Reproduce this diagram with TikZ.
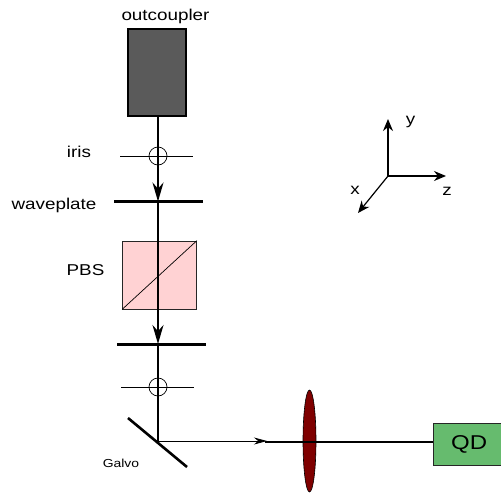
\documentclass[tikz,border=0pt]{standalone}
\usepackage{fontspec}
\setmainfont[FakeStretch=1.2]{Liberation Sans}
\usepackage{xcolor}
\usetikzlibrary{positioning,arrows.meta,shapes.geometric}
\definecolor{coupler}{HTML}{5A5A5A}
\definecolor{softpink}{HTML}{FFD2D3}
\definecolor{lensred}{HTML}{7F0000}
\definecolor{qdgreen}{HTML}{66BB6E}
\tikzset{
  lbl/.style={font=\fontsize{15.7}{18}\selectfont,inner sep=0pt},
  small/.style={font=\fontsize{11.6}{13}\selectfont,inner sep=0pt},
  coupler/.style={rectangle,draw=black,fill=coupler,line width=2.8pt,minimum width=58pt,minimum height=87pt,inner sep=0pt},
  plate/.style={rectangle,fill=black,minimum width=89pt,minimum height=3pt,inner sep=0pt},
  iris/.style={circle,draw=black,line width=0.7pt,minimum size=18pt,inner sep=0pt},
  cube/.style={rectangle,draw=black!85,fill=softpink,line width=0.7pt,minimum width=74pt,minimum height=68pt,inner sep=0pt},
  lens/.style={ellipse,draw=black,fill=lensred,line width=0.6pt,minimum width=13pt,minimum height=102pt,inner sep=0pt},
  qd/.style={rectangle,draw=black!85,fill=qdgreen,line width=1pt,minimum width=68pt,minimum height=42pt,inner sep=0pt,font=\fontsize{20}{22}\selectfont},
  beam/.style={line width=1.8pt,draw=black},
  flow/.style={line width=1.8pt,draw=black,-{Stealth[length=19pt,width=11pt]}},
  thin beam/.style={line width=0.8pt,draw=black,-{Stealth[length=13pt,width=7pt]}},
  axis/.style={line width=1.2pt,draw=black,-{Stealth[length=12pt,width=10pt]}},
}
\begin{document}
\begin{tikzpicture}[x=1pt,y=-1pt]
  \useasboundingbox (0,0) rectangle (501,493);
  \node[coupler] (oc) at (157,72.5) {};
  \node[lbl] (oclbl) at (165.5,16) {outcoupler};
  \node[iris] (ir1) at (158,156) {};
  \node[plate] (wp1) at (158.5,201.5) {};
  \node[cube] (pbs) at (159.5,275) {};
  \node[plate] (wp2) at (161,344) {};
  \node[iris] (ir2) at (158,387) {};
  \node[lens] (ln) at (309.5,441) {};
  \node[qd] (dot) at (467.5,444) {\,QD};
  \coordinate (turn) at (158,441);
  \coordinate (arr) at (267,441);
  \coordinate (arrb) at (265,442);
  % labels
  \node[lbl] (irlbl) at (79,152) {iris};
  \node[lbl] (wplbl) at (54,205.5) {waveplate};
  \node[lbl] (pbslbl) at (85.5,270.5) {PBS};
  \node[small] (glbl) at (121,463.5) {Galvo};
  % iris wires
  \coordinate (ir1a) at (120,156); \coordinate (ir1b) at (193,156);
  \coordinate (ir2a) at (121,387); \coordinate (ir2b) at (194,387);
  \draw[line width=0.5pt] (ir1a)--(ir1b);
  \draw[line width=0.5pt] (ir2a)--(ir2b);
  \draw[line width=0.7pt] (pbs.south west)--(pbs.north east);
  % galvo mirror
  \coordinate (ga) at (128,418); \coordinate (gb) at (187,467);
  \draw[line width=2.6pt] (ga)--(gb);
  % beam path
  \draw[flow] (oc.south -| ir1) -- (wp1.center -| ir1);
  \draw[beam] (wp1.center -| ir1) -- (pbs.center -| ir1);
  \draw[flow] (pbs.center -| ir1) -- (wp2.center -| ir1);
  \draw[beam] (wp2.center -| ir1) -- (turn);
  \draw[thin beam] (turn) -- (arr);
  \draw[beam,line width=2.2pt] (arrb) -- (dot.west |- arrb);
  % axes
  \coordinate (o) at (388,176);
  \coordinate (ey) at (388,119);
  \coordinate (ez) at (446,176);
  \coordinate (ex) at (358,213);
  \draw[axis] (o)--(ey);
  \draw[axis] (o)--(ez);
  \draw[axis] (o)--(ex);
  \node[lbl] (ylbl) at (410.5,122) {y};
  \node[lbl] (xlbl) at (355,190) {x};
  \node[lbl] (zlbl) at (447,191) {z};
\end{tikzpicture}
\end{document}
